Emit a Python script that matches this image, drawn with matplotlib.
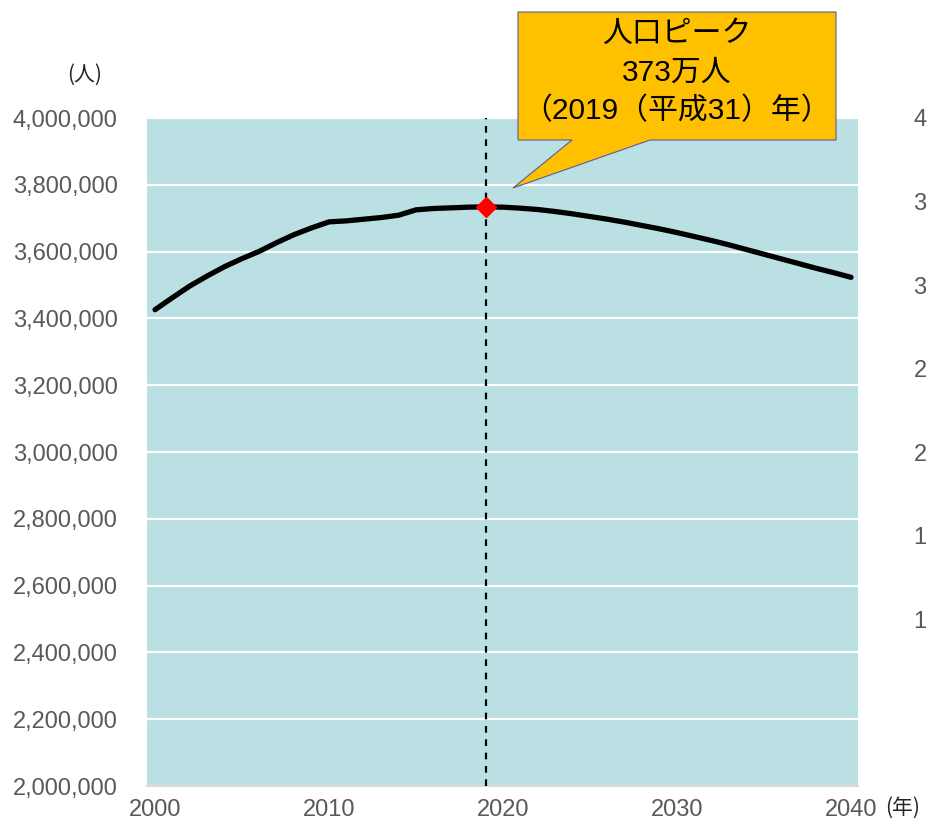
import matplotlib.pyplot as plt
from matplotlib.patches import Polygon
from matplotlib.ticker import FuncFormatter

plt.rcParams['font.family'] = ['Liberation Sans', 'Noto Sans CJK JP', 'DejaVu Sans']

years = list(range(2000, 2041))
population = [3426000, 3462000, 3497000, 3527000, 3555000, 3579000, 3601000,
              3627000, 3651000, 3671000, 3689000, 3692000, 3697000, 3702000,
              3709000, 3725000, 3729000, 3731000, 3733000, 3734000,
              3733000, 3730000, 3726000, 3720000, 3713000, 3705000, 3697000,
              3688000, 3678000, 3668000, 3657000, 3645000, 3633000, 3620000,
              3606000, 3592000, 3578000, 3564000, 3550000, 3537000, 3523000]
peak_year = 2019
peak_value = 3734000
x_ticks = [2000, 2010, 2020, 2030, 2040]
right_ticks = [4, 3.5, 3, 2.5, 2, 1.5, 1]
right_labels = ['4', '3', '3', '2', '2', '1', '1']
callout_lines = ['人口ピーク', '373万人', '（2019（平成31）年）']

W, H = 927, 826
fig = plt.figure(figsize=(W / 100, H / 100), dpi=100)
ax = fig.add_axes([147 / W, 1 - 786 / H, (858 - 147) / W, (786 - 118) / H])
ax.set_facecolor('#bbe0e3')

ax.plot(years, population, color='black', linewidth=3.8, solid_capstyle='round', zorder=3)
ax.axvline(peak_year, color='black', linestyle=(0, (3, 3)), linewidth=1.6, zorder=4)
ax.plot([peak_year], [peak_value], marker='D', color='red', markersize=10, zorder=5)

ax.set_xlim(1999.54, 2040.4)
ax.set_ylim(2000000, 4000000)
ax.set_yticks(range(2000000, 4000001, 200000))
ax.yaxis.set_major_formatter(FuncFormatter(lambda v, p: '{:,.0f}'.format(v)))
ax.set_xticks(x_ticks)
ax.grid(axis='y', color='white', linewidth=1.6)
ax.set_axisbelow(True)
for s in ['top', 'left', 'right']:
	ax.spines[s].set_visible(False)
ax.spines['bottom'].set_color('#d9d9d9')
ax.spines['bottom'].set_linewidth(1.5)
ax.tick_params(axis='y', length=0, pad=21, labelsize=17, labelcolor='#595959')
ax.tick_params(axis='x', length=0, pad=9, labelsize=17, labelcolor='#595959')

ax2 = ax.twinx()
ax2.set_ylim(0, 4)
ax2.set_yticks(right_ticks)
ax2.set_yticklabels(right_labels)
for s in ['top', 'left', 'right', 'bottom']:
	ax2.spines[s].set_visible(False)
ax2.tick_params(axis='y', length=0, pad=40, labelsize=17, labelcolor='#595959')

fig.text(85 / W, 1 - 75 / H, '(人)', ha='center', va='center', fontsize=15,
	family=['Noto Sans CJK JP'], color='#262626')
fig.text(903 / W, 1 - 808 / H, '(年)', ha='center', va='center', fontsize=15,
	family=['Noto Sans CJK JP'], color='#262626')

# callout box
pts = [(518, 12), (836, 12), (836, 140), (650, 140), (513, 188), (572, 140), (518, 140)]
callout = Polygon([(x / W, 1 - y / H) for x, y in pts], closed=True, transform=fig.transFigure,
	facecolor='#ffc000', edgecolor='#5a5aa0', linewidth=0.8, zorder=10)
fig.patches.append(callout)
for i, line in enumerate(callout_lines):
	fig.text(677 / W, 1 - (34 + 38.5 * i) / H, line, ha='center', va='center', fontsize=21.5,
		family=['Liberation Sans', 'Noto Sans CJK JP'], color='black', zorder=11)

fig.savefig('out.png', dpi=100)
